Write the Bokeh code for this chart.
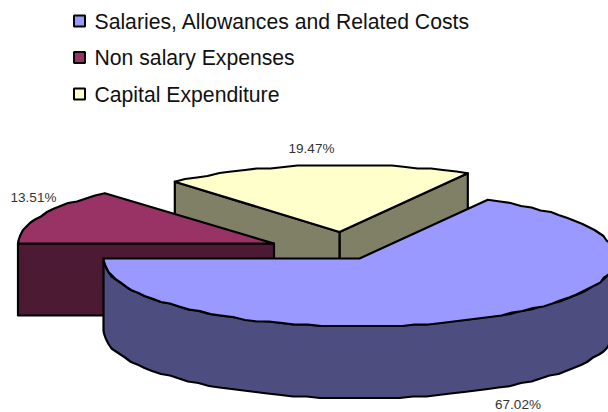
import numpy as np
from bokeh.core.properties import value
from bokeh.embed import file_html
from bokeh.models import Range1d
from bokeh.plotting import figure
from bokeh.resources import INLINE

# Budget shares, in the order the slices run clockwise from the left edge
categories = ["Salaries, Allowances and Related Costs", "Non salary Expenses", "Capital Expenditure"]
shares = [67.02, 13.51, 19.47]
share_labels = ["67.02%", "13.51%", "19.47%"]

top_colors = ["#9999FF", "#993366", "#FFFFCC"]
wall_colors = ["#4D4D80", "#4D1A33", "#808066"]

# Projection of the tilted pie, in page pixels
RX, RY, DEPTH = 256.0, 68.0, 72.0
START_ANGLE = 180.0
apexes = {0: (359.0, 258.0), 1: (273.5, 243.0), 2: (339.0, 231.5)}
# Sideways lean of the far rim and a small vertical nudge, per slice
leans = {0: 6.0, 1: 0.0, 2: 6.0}
nudges = {0: 1.0, 1: 1.0, 2: 1.0}
label_spots = {0: (517.5, 404), 1: (33, 196.5), 2: (311, 147.5)}
legend_rows = [20.5, 57, 93.5]
GRID = 1.5  # rim points snap to a fine grid, giving a slightly stepped outline

sweeps = [s / sum(shares) * 360.0 for s in shares]
bounds = {
    0: (START_ANGLE - 360.0, START_ANGLE - 360.0 + sweeps[0]),
    1: (START_ANGLE - sweeps[1], START_ANGLE),
    2: (START_ANGLE - sweeps[1] - sweeps[2], START_ANGLE - sweeps[1]),
}


def rim(i, a0, a1, drop=0.0, step=3.0):
    """Points along a slice's rim, math angles a0..a1 in degrees."""
    cx, cy = apexes[i]
    n = max(2, int(abs(a1 - a0) / step) + 1)
    t = np.radians(np.linspace(a0, a1, n))
    up = np.maximum(np.sin(t), 0.0)
    x = cx + RX * np.cos(t) + leans[i] * up
    y = cy - RY * np.sin(t) + nudges[i] * up + drop
    # interior points are snapped, the two ends stay exact
    x[1:-1] = np.round(x[1:-1] / GRID) * GRID
    y[1:-1] = np.round(y[1:-1] / GRID) * GRID
    return x, y


p = figure(width=608, height=412, output_backend="svg", toolbar_location=None,
           x_range=Range1d(0, 608), y_range=Range1d(412, 0),
           min_border=0, outline_line_color=None, background_fill_color="white")
p.axis.visible = False
p.grid.visible = False

outline = dict(line_color="black", line_width=2.2, line_join="round")

# Far slice first, then the one beside it, the big slice last
for i in (2, 1, 0):
    a0, a1 = bounds[i]
    cx, cy = apexes[i]

    if i == 0:
        # Outer wall: lower half of the rim
        x, y = rim(i, -180.0, 0.0)
        xb, yb = rim(i, 0.0, -180.0, DEPTH)
        p.patch(np.r_[x, xb], np.r_[y, yb], fill_color=wall_colors[i], **outline)
    else:
        # Cut faces seen from the front
        faces = [a1] if i == 1 else [a0, a1]
        for a in faces:
            ex, ey = rim(i, a, a)
            xs = [ex[0], cx, cx, ex[0]]
            ys = [ey[0], cy, cy + DEPTH, ey[0] + DEPTH]
            p.patch(xs, ys, fill_color=wall_colors[i], **outline)

    x, y = rim(i, a0, a1)
    p.patch(np.r_[cx, x], np.r_[cy, y], fill_color=top_colors[i], **outline)

# Value labels
for i, txt in enumerate(share_labels):
    lx, ly = label_spots[i]
    p.text([lx], [ly], text=[txt], text_font=value("Liberation Sans"), text_font_size="13.5px",
           text_color="#333333", text_align="center", text_baseline="middle")

# Legend
p.rect([79] * 3, legend_rows, width=11, height=11, fill_color=top_colors,
       line_color="black", line_width=2)
p.text([94] * 3, legend_rows, text=categories, text_font=value("Liberation Sans"),
       text_font_size="21.2px", text_color="#111111", text_align="left", text_baseline="middle")

open("out.html", "w").write(file_html(p, INLINE))
